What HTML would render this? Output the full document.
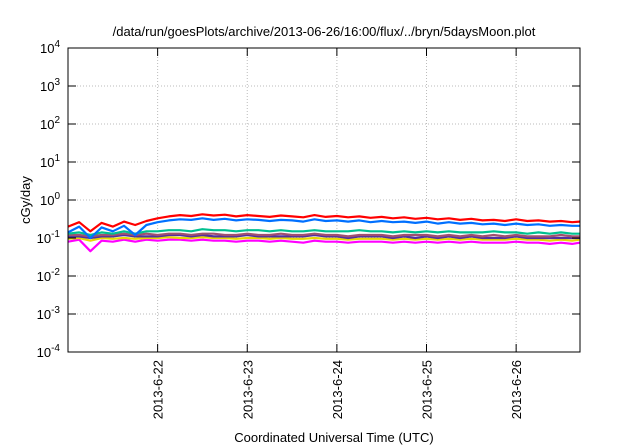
<!DOCTYPE html>
<html><head><meta charset="utf-8"><style>
body{margin:0;background:#fff;}
svg{display:block;font-family:"Liberation Sans",sans-serif;}
</style></head><body>
<svg id="chart" width="640" height="448">
<rect width="640" height="448" fill="#fff"/>
<text x="324" y="36" font-size="13" text-anchor="middle">/data/run/goesPlots/archive/2013-06-26/16:00/flux/../bryn/5daysMoon.plot</text>
<g id="grid"></g><g id="series"></g><g id="axes"></g>
<text x="334" y="442" font-size="13" text-anchor="middle">Coordinated Universal Time (UTC)</text>
<text transform="translate(30,200) rotate(-90)" font-size="13" text-anchor="middle">cGy/day</text>
</svg>
<script>
const hours=[0,3,6,9,12,15,18,21,24,27,30,33,36,39,42,45,48,51,54,57,60,63,66,69,72,75,78,81,84,87,90,93,96,99,102,105,108,111,114,117,120,123,126,129,132,135,137];
const dayLabels=["2013-6-22","2013-6-23","2013-6-24","2013-6-25","2013-6-26"];
const dayHours=[24,48,72,96,120];
const yExps=[-4,-3,-2,-1,0,1,2,3,4];
const red=[0.2,0.26,0.15,0.25,0.2,0.27,0.22,0.28,0.33,0.37,0.4,0.38,0.42,0.39,0.41,0.37,0.4,0.38,0.36,0.39,0.37,0.35,0.4,0.36,0.38,0.35,0.37,0.34,0.36,0.33,0.35,0.32,0.34,0.31,0.33,0.3,0.32,0.29,0.3,0.28,0.31,0.28,0.29,0.27,0.28,0.26,0.27];
const blue=[0.14,0.2,0.1,0.19,0.15,0.21,0.12,0.22,0.26,0.29,0.31,0.3,0.33,0.3,0.32,0.29,0.31,0.3,0.28,0.3,0.29,0.27,0.31,0.28,0.29,0.27,0.29,0.26,0.28,0.26,0.27,0.25,0.27,0.24,0.26,0.24,0.25,0.23,0.24,0.22,0.24,0.22,0.23,0.21,0.22,0.21,0.21];
const teal=[0.13,0.14,0.12,0.14,0.13,0.15,0.13,0.15,0.15,0.16,0.16,0.15,0.17,0.16,0.16,0.15,0.16,0.16,0.15,0.16,0.15,0.15,0.16,0.15,0.15,0.15,0.16,0.15,0.15,0.14,0.15,0.14,0.15,0.14,0.15,0.14,0.14,0.14,0.15,0.14,0.14,0.13,0.14,0.13,0.14,0.13,0.13];
const brown=[0.12,0.12,0.11,0.12,0.12,0.13,0.12,0.13,0.12,0.13,0.13,0.12,0.13,0.13,0.12,0.12,0.13,0.12,0.12,0.13,0.12,0.12,0.13,0.12,0.12,0.11,0.12,0.12,0.12,0.11,0.12,0.12,0.12,0.11,0.12,0.11,0.12,0.11,0.12,0.11,0.12,0.11,0.11,0.11,0.12,0.11,0.11];
const purple=[0.11,0.11,0.1,0.11,0.11,0.12,0.11,0.11,0.11,0.12,0.12,0.11,0.12,0.11,0.11,0.11,0.12,0.11,0.11,0.11,0.11,0.11,0.12,0.11,0.11,0.1,0.11,0.11,0.11,0.1,0.11,0.1,0.11,0.1,0.11,0.1,0.11,0.1,0.1,0.1,0.11,0.1,0.1,0.1,0.1,0.1,0.1];
const yellow=[0.095,0.1,0.085,0.1,0.095,0.1,0.095,0.1,0.1,0.105,0.1,0.1,0.105,0.1,0.1,0.095,0.1,0.1,0.095,0.1,0.095,0.095,0.1,0.095,0.095,0.09,0.095,0.095,0.095,0.09,0.095,0.09,0.095,0.09,0.095,0.09,0.095,0.09,0.09,0.09,0.095,0.09,0.09,0.085,0.09,0.085,0.09];
const magenta=[0.08,0.09,0.045,0.085,0.08,0.09,0.08,0.09,0.085,0.09,0.09,0.085,0.09,0.085,0.085,0.08,0.085,0.085,0.08,0.085,0.08,0.075,0.085,0.08,0.08,0.075,0.08,0.08,0.08,0.075,0.08,0.075,0.08,0.075,0.08,0.075,0.08,0.075,0.075,0.075,0.08,0.075,0.075,0.07,0.075,0.07,0.075];
const seriesList=[["magenta-series","#ff00ff",magenta],["yellow-series","#e8d800",yellow],["purple-series","#5030a0",purple],["brown-series","#a05070",brown],["teal-series","#00c090",teal],["blue-series","#0070ff",blue],["red-series","#ff0000",red]];
const L=68,R=580,T=48,B=352,H0=0,H1=137.1;
const xs=h=>L+(h-H0)/(H1-H0)*(R-L);
const ys=v=>T+(4-Math.log10(v))/8*(B-T);
const NS="http://www.w3.org/2000/svg";
function mk(tag,attrs,parent){const e=document.createElementNS(NS,tag);for(const k in attrs)e.setAttribute(k,attrs[k]);parent.appendChild(e);return e;}
const grid=document.getElementById('grid'),axes=document.getElementById('axes'),sg=document.getElementById('series');
yExps.forEach(p=>{const y=T+(4-p)/8*(B-T);
 if(p>-4&&p<4){const g=mk('line',{x1:L,x2:R,y1:y,y2:y,stroke:'#bbb','stroke-dasharray':'1,2'},grid);
 
 }
 const t1=mk('line',{x1:L,x2:L+8,y1:y,y2:y,stroke:'#000'},axes);
 
 
 mk('line',{x1:R-8,x2:R,y1:y,y2:y,stroke:'#000'},axes);
 const tx=mk('text',{x:L-8,y:y+5,'font-size':13,'text-anchor':'end'},axes);
 
 
 tx.textContent='10';const s=mk('tspan',{dy:-6,'font-size':10},tx);s.textContent=p;});
dayHours.forEach((h,i)=>{const x=xs(h);
 const g=mk('line',{x1:x,x2:x,y1:T,y2:B,stroke:'#bbb','stroke-dasharray':'1,2'},grid);
 
 
 mk('line',{x1:x,x2:x,y1:B-8,y2:B,stroke:'#000'},axes);
 mk('line',{x1:x,x2:x,y1:T,y2:T+8,stroke:'#000'},axes);
 const t=mk('text',{transform:`translate(${x+5},${B+8}) rotate(-90)`,'font-size':13,'text-anchor':'end'},axes);
 
 
 t.textContent=dayLabels[i];});
const fr=mk('rect',{x:L,y:T,width:R-L,height:B-T,fill:'none',stroke:'#000','stroke-width':1},axes);


seriesList.forEach(([n,c,vals])=>{
 const d=vals.map((v,i)=>(i?'L':'M')+xs(hours[i]).toFixed(1)+','+ys(v).toFixed(1)).join('');
 const p=mk('path',{d:d,fill:'none',stroke:c,'stroke-width':2.2,'stroke-linejoin':'round'},sg);
 
 });
</script>
</body></html>
